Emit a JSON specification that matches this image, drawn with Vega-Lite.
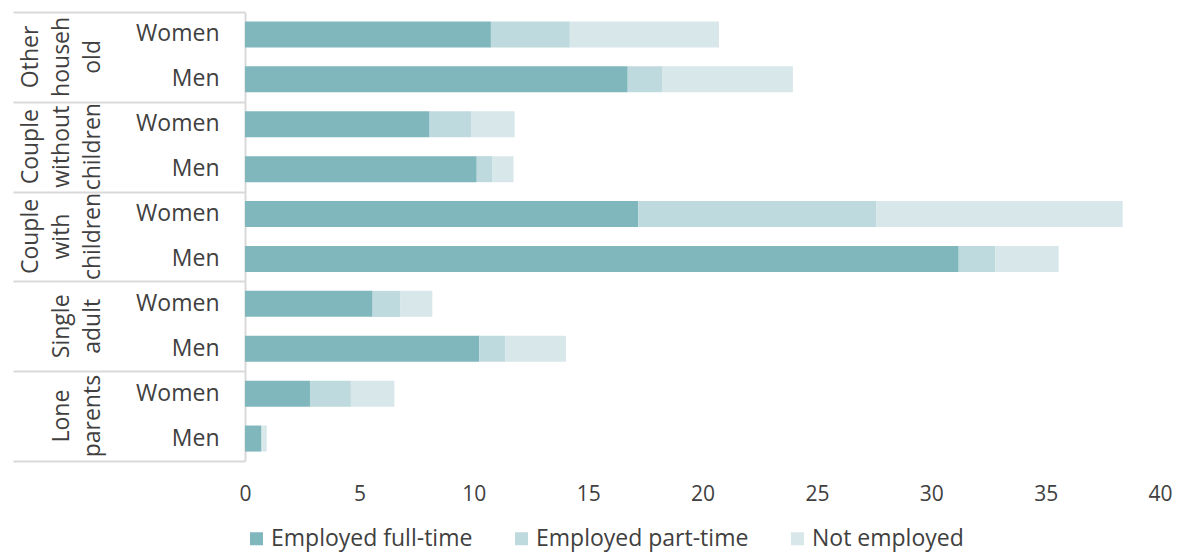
{
  "$schema": "https://vega.github.io/schema/vega-lite/v6.json",
  "width": 915,
  "height": 449,
  "padding": {"left": 12, "top": 11, "right": 5, "bottom": 2},
  "config": {
    "view": {"stroke": null},
    "font": "Open Sans",
    "text": {"font": "Open Sans"}
  },
  "data": {
    "values": [
      {"group": "Other household", "sex": "Women", "row": "Other household|Women", "status": "Employed full-time", "ord": 1, "value": 10.75},
      {"group": "Other household", "sex": "Women", "row": "Other household|Women", "status": "Employed part-time", "ord": 2, "value": 3.45},
      {"group": "Other household", "sex": "Women", "row": "Other household|Women", "status": "Not employed", "ord": 3, "value": 6.52},
      {"group": "Other household", "sex": "Men", "row": "Other household|Men", "status": "Employed full-time", "ord": 1, "value": 16.73},
      {"group": "Other household", "sex": "Men", "row": "Other household|Men", "status": "Employed part-time", "ord": 2, "value": 1.5},
      {"group": "Other household", "sex": "Men", "row": "Other household|Men", "status": "Not employed", "ord": 3, "value": 5.72},
      {"group": "Couple without children", "sex": "Women", "row": "Couple without children|Women", "status": "Employed full-time", "ord": 1, "value": 8.07},
      {"group": "Couple without children", "sex": "Women", "row": "Couple without children|Women", "status": "Employed part-time", "ord": 2, "value": 1.81},
      {"group": "Couple without children", "sex": "Women", "row": "Couple without children|Women", "status": "Not employed", "ord": 3, "value": 1.91},
      {"group": "Couple without children", "sex": "Men", "row": "Couple without children|Men", "status": "Employed full-time", "ord": 1, "value": 10.13},
      {"group": "Couple without children", "sex": "Men", "row": "Couple without children|Men", "status": "Employed part-time", "ord": 2, "value": 0.67},
      {"group": "Couple without children", "sex": "Men", "row": "Couple without children|Men", "status": "Not employed", "ord": 3, "value": 0.94},
      {"group": "Couple with children", "sex": "Women", "row": "Couple with children|Women", "status": "Employed full-time", "ord": 1, "value": 17.19},
      {"group": "Couple with children", "sex": "Women", "row": "Couple with children|Women", "status": "Employed part-time", "ord": 2, "value": 10.41},
      {"group": "Couple with children", "sex": "Women", "row": "Couple with children|Women", "status": "Not employed", "ord": 3, "value": 10.77},
      {"group": "Couple with children", "sex": "Men", "row": "Couple with children|Men", "status": "Employed full-time", "ord": 1, "value": 31.2},
      {"group": "Couple with children", "sex": "Men", "row": "Couple with children|Men", "status": "Employed part-time", "ord": 2, "value": 1.6},
      {"group": "Couple with children", "sex": "Men", "row": "Couple with children|Men", "status": "Not employed", "ord": 3, "value": 2.77},
      {"group": "Single adult", "sex": "Women", "row": "Single adult|Women", "status": "Employed full-time", "ord": 1, "value": 5.58},
      {"group": "Single adult", "sex": "Women", "row": "Single adult|Women", "status": "Employed part-time", "ord": 2, "value": 1.22},
      {"group": "Single adult", "sex": "Women", "row": "Single adult|Women", "status": "Not employed", "ord": 3, "value": 1.39},
      {"group": "Single adult", "sex": "Men", "row": "Single adult|Men", "status": "Employed full-time", "ord": 1, "value": 10.24},
      {"group": "Single adult", "sex": "Men", "row": "Single adult|Men", "status": "Employed part-time", "ord": 2, "value": 1.15},
      {"group": "Single adult", "sex": "Men", "row": "Single adult|Men", "status": "Not employed", "ord": 3, "value": 2.64},
      {"group": "Lone parents", "sex": "Women", "row": "Lone parents|Women", "status": "Employed full-time", "ord": 1, "value": 2.84},
      {"group": "Lone parents", "sex": "Women", "row": "Lone parents|Women", "status": "Employed part-time", "ord": 2, "value": 1.79},
      {"group": "Lone parents", "sex": "Women", "row": "Lone parents|Women", "status": "Not employed", "ord": 3, "value": 1.9},
      {"group": "Lone parents", "sex": "Men", "row": "Lone parents|Men", "status": "Employed full-time", "ord": 1, "value": 0.71},
      {"group": "Lone parents", "sex": "Men", "row": "Lone parents|Men", "status": "Employed part-time", "ord": 2, "value": 0.05},
      {"group": "Lone parents", "sex": "Men", "row": "Lone parents|Men", "status": "Not employed", "ord": 3, "value": 0.19}
    ]
  },
  "layer": [
    {
      "mark": {"type": "bar", "height": {"band": 0.58}},
      "encoding": {
        "y": {
          "field": "row",
          "type": "nominal",
          "sort": ["Other household|Women", "Other household|Men", "Couple without children|Women", "Couple without children|Men", "Couple with children|Women", "Couple with children|Men", "Single adult|Women", "Single adult|Men", "Lone parents|Women", "Lone parents|Men"],
          "scale": {"paddingInner": 0, "paddingOuter": 0},
          "axis": {
            "title": null,
            "orient": "left",
            "offset": 0,
            "domain": true,
            "domainColor": "#d9d9d9",
            "domainWidth": 2,
            "ticks": false,
            "labelExpr": "split(datum.value, '|')[1]",
            "labelPadding": 26,
            "labelAlign": "right",
            "labelBaseline": "middle",
            "labelFont": "Open Sans",
            "labelFontSize": 23,
            "labelColor": "#404040",
            "labelOverlap": false
          }
        },
        "x": {
          "field": "value",
          "type": "quantitative",
          "stack": "zero",
          "scale": {"domain": [0, 40], "nice": false},
          "axis": {
            "title": null,
            "values": [0, 5, 10, 15, 20, 25, 30, 35, 40],
            "grid": false,
            "domain": false,
            "ticks": false,
            "labelPadding": 22,
            "labelFlush": false,
            "labelFont": "Open Sans",
            "labelFontSize": 21,
            "labelColor": "#404040"
          }
        },
        "color": {
          "field": "status",
          "type": "nominal",
          "scale": {
            "domain": ["Employed full-time", "Employed part-time", "Not employed"],
            "range": ["#7FB7BD", "#BFDADE", "#D8E7EA"]
          },
          "legend": {
            "title": null,
            "orient": "bottom",
            "direction": "horizontal",
            "symbolType": "square",
            "symbolSize": 169,
            "symbolStrokeWidth": 0,
            "labelFont": "Open Sans",
            "labelFontSize": 23,
            "labelColor": "#404040",
            "labelLimit": 0,
            "labelOffset": 3,
            "columnPadding": 37,
            "offset": 23
          }
        },
        "order": {"field": "ord", "type": "quantitative"}
      }
    },
    {
      "mark": {"type": "bar", "opacity": 0},
      "encoding": {
        "y": {
          "field": "group",
          "type": "nominal",
          "sort": ["Other household", "Couple without children", "Couple with children", "Single adult", "Lone parents"],
          "scale": {"paddingInner": 0, "paddingOuter": 0},
          "axis": {
            "title": null,
            "orient": "left",
            "offset": 0,
            "domain": false,
            "ticks": false,
            "labelExpr": "datum.value == 'Other household' ? ['Other', 'househ', 'old'] : datum.value == 'Couple without children' ? ['Couple', 'without', 'children'] : datum.value == 'Couple with children' ? ['Couple', 'with', 'children'] : datum.value == 'Single adult' ? ['', 'Single', 'adult'] : datum.value == 'Lone parents' ? ['', 'Lone', 'parents'] : ''",
            "labelAngle": -90,
            "labelAlign": "center",
            "labelBaseline": "top",
            "labelPadding": 226,
            "labelLineHeight": 31,
            "labelFont": "Open Sans",
            "labelFontSize": 23,
            "labelColor": "#404040",
            "labelOverlap": false,
            "labelBound": false
          }
        }
      }
    },
    {
      "mark": {"type": "bar", "opacity": 0},
      "encoding": {
        "y": {
          "field": "group",
          "type": "nominal",
          "sort": ["Other household", "Couple without children", "Couple with children", "Single adult", "Lone parents"],
          "scale": {"paddingInner": 0, "paddingOuter": 0},
          "axis": {
            "title": null,
            "orient": "left",
            "offset": 0,
            "domain": false,
            "labels": false,
            "ticks": true,
            "tickBand": "extent",
            "tickSize": 232,
            "tickColor": "#d9d9d9",
            "tickWidth": 2
          }
        }
      }
    }
  ],
  "resolve": {"scale": {"y": "independent"}}
}
